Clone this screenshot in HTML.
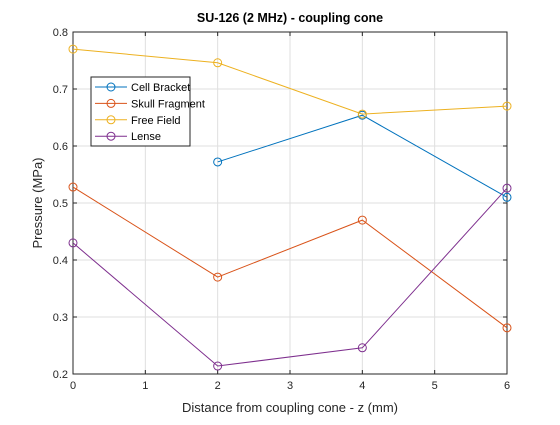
<!DOCTYPE html>
<html><head><meta charset="utf-8"><style>
body{margin:0;background:#fff;}
svg{font-family:"Liberation Sans",Arial,sans-serif;}
</style></head><body>
<svg id="chart" width="560" height="420">
<rect width="560" height="420" fill="#fff"/>
<g id="grid"></g><g id="axes"></g><g id="series"></g><g id="legend"></g>
<text x="290" y="22" text-anchor="middle" font-size="12.5" font-weight="bold" fill="#000">SU-126 (2 MHz) - coupling cone</text>
<text x="290" y="412" text-anchor="middle" font-size="13" fill="#262626">Distance from coupling cone - z (mm)</text>
<text transform="translate(42,203) rotate(-90)" text-anchor="middle" font-size="13" fill="#262626">Pressure (MPa)</text>
</svg>
<script>
const xTicks=[0,1,2,3,4,5,6];
const yTicks=[0.2,0.3,0.4,0.5,0.6,0.7,0.8];
const seriesNames=["Cell Bracket","Skull Fragment","Free Field","Lense"];
const cellX=[2,4,6];
const cellY=[0.572,0.654,0.51];
const skullX=[0,2,4,6];
const skullY=[0.528,0.370,0.470,0.281];
const freeX=[0,2,4,6];
const freeY=[0.770,0.746,0.656,0.670];
const lenseX=[0,2,4,6];
const lenseY=[0.430,0.214,0.246,0.526];
const colors=["#0072BD","#D95319","#EDB120","#7E2F8E"];
const NS="http://www.w3.org/2000/svg";
const L=73,R=507,T=32,B=374;
const sx=v=>L+(v-0)/(6-0)*(R-L);
const sy=v=>B-(v-0.2)/(0.8-0.2)*(B-T);
function mk(tag,attrs,parent){const e=document.createElementNS(NS,tag);for(const k in attrs)e.setAttribute(k,attrs[k]);parent.appendChild(e);return e;}
const grid=document.getElementById('grid'),axes=document.getElementById('axes'),ser=document.getElementById('series'),leg=document.getElementById('legend');
xTicks.forEach(t=>{
 const g=mk('line',{x1:sx(t),x2:sx(t),y1:T,y2:B,stroke:'#dfdfdf','stroke-width':1},grid);
 
 
 mk('line',{x1:sx(t),x2:sx(t),y1:B,y2:B-4,stroke:'#262626'},axes);
 mk('line',{x1:sx(t),x2:sx(t),y1:T,y2:T+4,stroke:'#262626'},axes);
 const tx=mk('text',{x:sx(t),y:B+15,'text-anchor':'middle','font-size':11,fill:'#262626'},axes);
 tx.textContent=t;
 
 
});
yTicks.forEach(t=>{
 const g=mk('line',{x1:L,x2:R,y1:sy(t),y2:sy(t),stroke:'#dfdfdf','stroke-width':1},grid);
 
 
 mk('line',{x1:L,x2:L+4,y1:sy(t),y2:sy(t),stroke:'#262626'},axes);
 mk('line',{x1:R,x2:R-4,y1:sy(t),y2:sy(t),stroke:'#262626'},axes);
 const tx=mk('text',{x:L-5,y:sy(t)+4,'text-anchor':'end','font-size':11,fill:'#262626'},axes);
 tx.textContent=t.toFixed(1);
 
 
});
const box=mk('rect',{x:L,y:T,width:R-L,height:B-T,fill:'none',stroke:'#262626','stroke-width':1},axes);


const all=[[cellX,cellY],[skullX,skullY],[freeX,freeY],[lenseX,lenseY]];
all.forEach((d,i)=>{
 const pts=d[0].map((x,j)=>sx(x)+','+sy(d[1][j])).join(' ');
 const pl=mk('polyline',{points:pts,fill:'none',stroke:colors[i],'stroke-width':1},ser);
 
 
 d[0].forEach((x,j)=>{
  const c=mk('circle',{cx:sx(x),cy:sy(d[1][j]),r:4,fill:'none',stroke:colors[i],'stroke-width':1},ser);
  
  
 });
});
const lb=mk('rect',{x:91,y:77,width:99,height:69,fill:'#fff',stroke:'#262626','stroke-width':1},leg);


seriesNames.forEach((n,i)=>{
 const y=87+i*16.4;
 mk('line',{x1:95,x2:127,y1:y,y2:y,stroke:colors[i]},leg);
 mk('circle',{cx:111,cy:y,r:4,fill:'none',stroke:colors[i]},leg);
 const t=mk('text',{x:131,y:y+4,'font-size':11,fill:'#000'},leg);
 t.textContent=n;
 
 
});
</script>
</body></html>
